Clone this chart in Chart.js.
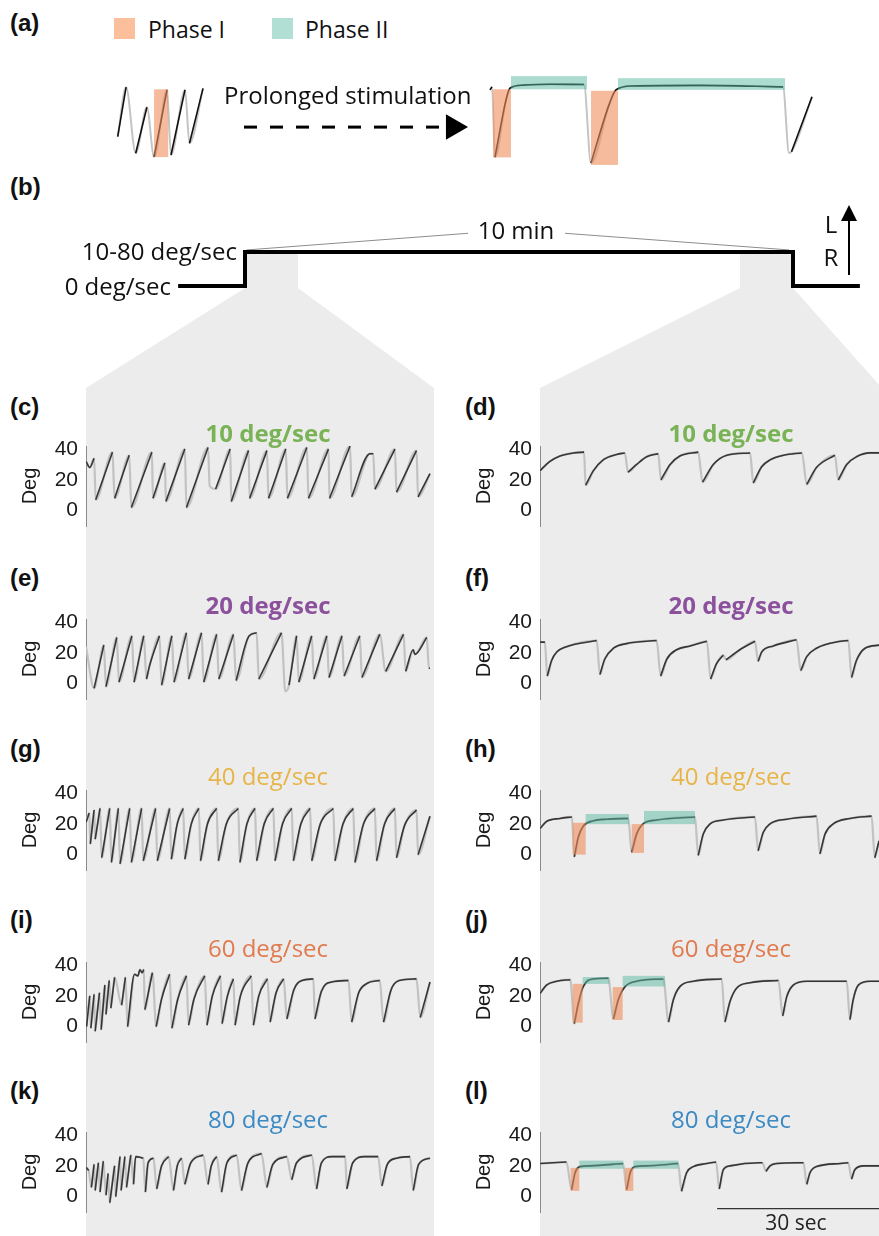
<!DOCTYPE html>
<html>
<head>
<meta charset="utf-8">
<title>Prolonged stimulation</title>
<script src="https://cdn.jsdelivr.net/npm/chart.js@4.4.1/dist/chart.umd.min.js"></script>
<style>
  html, body { margin: 0; padding: 0; background: #fff; }
  body { position: relative; width: 879px; height: 1236px; overflow: hidden; font-family: "Open Sans", sans-serif; color: #111; }
  .shade { position: absolute; background: #ececec; }
  canvas { position: absolute; }
  .txt { position: absolute; white-space: nowrap; line-height: 1; z-index: 2; }
</style>
</head>
<body>
<div class="shade" style="left:0;top:0;width:879px;height:400px;clip-path:polygon(245px 252px,298px 252px,298px 288px,434px 388px,86px 388px,245px 288px)"></div>
<div class="shade" style="left:0;top:0;width:879px;height:400px;clip-path:polygon(740px 252px,793px 252px,793px 288px,882px 388px,540px 388px,740px 288px)"></div>
<div class="shade" style="left:86px;top:388px;width:348px;height:848px"></div>
<div class="shade" style="left:540px;top:388px;width:339px;height:848px"></div>
<script>
// ---- data ---------------------------------------------------------------
// traces: list of slow-phase segments, each [time (s), eye position (deg)]
const degTicks = [0, 20, 40];

const cTrace = [
  [[0, 32], [0.7, 28], [1.5, 34]],
  [[1.8, 7], [4.9, 38]],
  [[5.3, 8], [8.0, 36]],
  [[8.4, 2], [12.2, 38]],
  [[12.4, 8], [14.6, 31]],
  [[14.8, 6], [18.3, 40]],
  [[18.6, 2], [22.6, 41]],
  [[22.9, 16]],
  [[24.0, 14], [26.7, 40]],
  [[26.9, 6], [30.1, 39]],
  [[30.3, 8], [33.5, 39]],
  [[33.8, 8], [37.0, 40]],
  [[37.3, 8], [40.9, 41]],
  [[41.2, 8], [44.9, 40]],
  [[45.1, 8], [48.9, 42]],
  [[49.2, 9], [52.6, 37], [53.2, 37]],
  [[53.5, 14], [57.2, 40]],
  [[57.5, 12], [61.2, 39]],
  [[61.5, 9], [63.7, 24]]
];
const dTrace = [
  [[0, 26], [1.85, 32], [3.7, 35.5], [6.2, 37.5], [8.15, 38]],
  [[8.45, 16.5], [9.9, 26], [11.7, 33], [14.2, 36.5], [15.7, 37.5]],
  [[16.3, 25], [17.9, 30], [19.75, 35], [21.9, 37]],
  [[22.4, 20], [24.1, 30], [25.9, 35.5], [29.3, 38]],
  [[30.1, 18.5], [32.1, 30], [34.6, 36], [38.9, 37.5]],
  [[39.5, 18], [41.05, 28.5], [42.6, 33], [45.1, 36], [48.5, 37.5]],
  [[49.4, 17], [51.2, 28], [54.6, 36]],
  [[55.25, 20], [56.8, 30], [58.6, 35], [61.1, 37.5], [62.8, 37.5]]
];
const eTrace = [
  [[0, 24]],
  [[1.5, -3], [3.3, 25]],
  [[3.7, -2], [5.7, 30]],
  [[6.1, 1], [8.5, 31]],
  [[8.9, 1], [10.7, 31]],
  [[11.2, 3], [11.8, 12], [13.6, 31]],
  [[14.0, -1], [15.9, 31]],
  [[16.3, 1], [18.6, 33]],
  [[19.0, 3], [21.4, 33]],
  [[21.8, 1], [24.2, 32]],
  [[24.6, 3], [27.3, 32]],
  [[27.8, 2], [30.2, 31], [31.6, 33]],
  [[32.0, 3], [36.2, 33]],
  [[36.9, -5]],
  [[37.6, -1], [39.0, 31]],
  [[39.4, 1], [41.8, 31]],
  [[42.2, 3], [44.6, 31]],
  [[45.0, 4], [47.4, 31]],
  [[47.8, 5], [50.7, 31]],
  [[51.1, 4], [54.4, 32]],
  [[55.5, 8], [58.8, 32]],
  [[59.2, 8], [60.6, 22], [60.9, 19], [63.1, 30]],
  [[63.5, 10], [63.7, 10]]
];
const fTrace = [
  [[0, 27], [0.9, 27]],
  [[1.35, 5], [2.15, 15], [3.1, 20.5], [4.9, 24], [10.5, 28]],
  [[11.1, 6], [12.0, 16], [13.6, 23], [16.0, 26], [21.6, 28]],
  [[22.35, 5], [23.5, 16], [25.3, 22], [27.8, 24.5], [30.9, 27.5]],
  [[31.6, 3], [32.7, 13], [33.95, 18.5]],
  [[34.45, 15.5], [37.0, 22], [39.8, 27.5]],
  [[40.4, 14.5], [41.05, 20.5], [43.2, 24.5], [47.5, 28.5]],
  [[48.3, 8.5], [49.4, 17.5], [51.2, 23], [55.6, 27.5], [57.1, 28]],
  [[57.7, 4], [58.6, 15], [60.2, 23], [62.8, 25]]
];
const gTrace = [
  [[0, 21], [0.6, 27]],
  [[0.8, 7], [1.5, 29]],
  [[1.7, 10], [2.6, 30]],
  [[2.9, -2], [4.4, 30]],
  [[4.7, -5], [6.0, 30]],
  [[6.3, -6], [8.1, 30]],
  [[8.4, -5], [10.3, 30]],
  [[10.6, -4], [12.9, 30]],
  [[13.2, -4], [15.5, 30]],
  [[15.8, -3], [16.9, 20], [18.0, 30]],
  [[18.3, -3], [19.5, 20], [20.9, 30]],
  [[21.2, -4], [22.5, 20], [24.2, 30]],
  [[24.5, -4], [26.0, 20], [28.2, 30]],
  [[28.5, -5], [29.8, 20], [31.3, 30]],
  [[31.6, -4], [33.0, 20], [34.7, 30]],
  [[35.0, -4], [36.4, 20], [38.1, 30]],
  [[38.4, -4], [39.8, 20], [41.5, 30]],
  [[41.8, -4], [43.4, 20], [45.8, 30]],
  [[46.1, -4], [47.6, 20], [49.5, 30]],
  [[49.8, -5], [51.4, 20], [53.5, 30]],
  [[53.8, -4], [55.3, 20], [57.2, 30]],
  [[57.5, -2], [59.0, 19], [61.2, 29]],
  [[61.5, 0], [63.7, 25]]
];
const hTrace = [
  [[0, 17], [1.2, 21.5], [3.7, 23.5], [5.9, 24.5]],
  [[6.35, -1.5], [7.1, 11.5], [8.0, 18.5], [9.9, 22], [12.35, 23], [16.35, 23.5]],
  [[16.98, 1.5], [17.9, 13.5], [19.1, 20], [21.6, 22.5], [28.7, 24.5]],
  [[29.3, -0.5], [30.25, 13.5], [31.5, 20], [33.95, 22.5], [39.8, 24.5]],
  [[40.4, 2.5], [41.35, 14.5], [42.6, 20], [45.7, 23], [51.2, 25]],
  [[51.85, 0.5], [52.8, 13.5], [54.3, 20], [57.4, 23.5], [61.4, 25]],
  [[62.0, -2], [62.8, 9]]
];
const iTrace = [
  [[0.1, 0], [0.7, 20]],
  [[0.9, -1], [1.5, 21]],
  [[1.7, -3], [2.5, 22]],
  [[2.8, -2], [3.5, 27]],
  [[3.7, 8], [4.3, 30]],
  [[4.6, 12], [5.3, 32]],
  [[6.6, 14], [7.3, 32]],
  [[7.7, 0], [9.0, 34], [9.6, 33], [10.0, 37], [10.4, 35], [10.7, 37]],
  [[10.9, 11], [12.3, 35]],
  [[13.0, 0], [14.0, 18], [15.5, 34]],
  [[15.9, -1], [17.0, 18], [18.6, 33]],
  [[19.0, 1], [20.0, 18], [22.0, 33]],
  [[22.4, 1], [23.4, 20], [24.9, 33]],
  [[25.2, 2], [26.2, 20], [27.3, 31]],
  [[27.6, 1], [28.6, 20], [30.6, 33]],
  [[31.0, 1], [32.0, 20], [33.6, 31]],
  [[34.1, 3], [35.2, 22], [36.6, 31]],
  [[37.2, 5], [38.5, 24], [40.0, 30], [42.1, 31]],
  [[42.4, 5], [43.6, 23], [45.5, 29], [48.6, 30]],
  [[49.2, 3], [50.5, 22], [52.0, 28], [54.4, 30]],
  [[55.1, 3], [56.5, 24], [58.0, 30], [61.2, 31]],
  [[61.9, 6], [63.7, 29]]
];
const jTrace = [
  [[0, 21.5], [1.2, 27], [3.1, 29.5], [5.6, 30.5]],
  [[6.35, 2], [7.1, 15], [8.0, 26], [9.9, 31], [12.65, 31.5]],
  [[13.6, 5], [14.5, 17.5], [15.75, 26], [17.9, 29.5], [22.85, 31]],
  [[23.8, 3], [24.7, 17.5], [25.9, 26], [28.4, 29.5], [33.65, 31]],
  [[34.25, 3], [35.2, 16.5], [36.4, 25], [38.9, 28.5], [44.15, 30]],
  [[44.95, 7], [45.7, 19.5], [46.9, 27], [49.4, 29.5], [56.8, 29.5]],
  [[57.4, 4.5], [58.0, 17.5], [58.95, 27], [61.1, 29.5], [62.8, 29.5]]
];
const kTrace = [
  [[0, 19], [0.5, 17]],
  [[1.0, 6], [1.5, 21]],
  [[1.7, 4], [2.3, 22]],
  [[2.6, 3], [3.2, 23]],
  [[3.7, 1], [4.1, 15]],
  [[4.4, -4], [5.3, 20]],
  [[5.5, 0], [6.3, 26]],
  [[6.5, 4], [7.2, 26]],
  [[7.5, 6], [8.3, 27]],
  [[8.8, 8], [9.2, 26], [10.6, 25]],
  [[11.0, 3], [11.5, 22], [12.5, 25]],
  [[13.1, 5], [14.0, 20], [15.3, 26]],
  [[16.2, 4], [16.9, 20], [17.7, 25]],
  [[18.3, 8], [19.4, 22], [21.7, 27]],
  [[22.6, 8], [23.2, 20], [24.2, 26]],
  [[25.1, 3], [26.1, 22], [27.9, 27]],
  [[28.8, 4], [30.0, 22], [32.5, 28]],
  [[33.5, 6], [34.6, 21], [37.2, 26]],
  [[38.1, 11], [39.0, 22], [41.8, 27]],
  [[42.7, 5], [43.6, 22], [45.5, 26], [48.0, 26]],
  [[48.3, 5], [49.4, 22], [51.5, 26], [54.1, 26]],
  [[54.8, 7], [55.8, 21], [57.5, 25], [60.0, 26]],
  [[60.6, 4], [61.6, 21], [63.7, 25]]
];
const lTrace = [
  [[0, 21.5], [4.9, 22.5]],
  [[5.85, 4.5], [6.5, 15.5], [7.4, 19.5], [9.3, 20], [15.4, 21.5]],
  [[16.05, 4.5], [16.7, 15.5], [17.6, 19.5], [19.75, 20], [25.6, 21.5]],
  [[26.2, 3.5], [27.15, 15.5], [28.4, 19.5], [30.9, 21.5], [32.6, 22.5]],
  [[33.2, 5], [33.95, 17.5], [35.2, 20], [40.7, 22], [41.2, 22]],
  [[41.85, 16.5], [42.6, 20], [43.8, 21.5], [48.8, 22]],
  [[49.4, 8], [50.0, 15.5], [51.2, 19.5], [55.6, 21.5], [57.1, 22]],
  [[57.7, 11.5], [58.3, 17.5], [59.9, 20], [62.8, 20]]
];

// phase windows: [t start, t end, deg low, deg high]
const hPhaseI = [[6.05, 8.46, 0, 20.7], [16.98, 19.26, 1.1, 19.8]];
const hPhaseII = [[8.46, 16.48, 19.8, 26.4], [19.26, 28.7, 19.8, 28.4]];
const jPhaseI = [[6.05, 7.9, 2.6, 27.8], [13.46, 15.31, 4.3, 25.7]];
const jPhaseII = [[7.9, 12.84, 27.8, 32.2], [15.31, 23.15, 26.1, 33]];
const lPhaseI = [[5.68, 7.28, 3.7, 18.7], [15.74, 17.28, 3.7, 18.7]];
const lPhaseII = [[7.28, 15.43, 18.1, 23.4], [17.28, 25.62, 18.1, 23.4]];

const scaleBarSec = [32.8, 62.8];
const scaleBarDeg = -7.8;

// schematic (a): before / after prolonged stimulation (arbitrary units)
const aBefore = [
  [[1.77, 11.1], [2.61, 27.6]],
  [[3.57, 5.6], [4.69, 20.9]],
  [[5.41, 4.4], [6.7, 26.7]],
  [[7.1, 5], [8.5, 26.7]],
  [[8.95, 8.9], [10.3, 27.2]]
];
const aAfter = [
  [[39.0, 26.7], [39.2, 27.7]],
  [[39.5, 4.3], [40.6, 23.3], [41.0, 27.3], [42.3, 28.3], [45.0, 28.6], [48.4, 28.5]],
  [[49.1, 2.3], [50.9, 21.7], [51.6, 26.7], [53.2, 28], [60.0, 28.2], [68.3, 27.7]],
  [[68.9, 5.7]],
  [[69.15, 6.1], [71.2, 24.4]]
];
const aPhaseI = [[5.41, 6.82, 4.3, 26.9], [39.3, 41.1, 4.2, 26.9], [49.1, 51.8, 1.7, 26.4]];
const aPhaseII = [[41.1, 48.7, 26.9, 31.3], [51.8, 68.5, 26.7, 30.6]];
const arrowSpan = [14.4, 34.2];
const arrowHead = 35.33;
const arrowDeg = 14.3;

// stimulus (b): minutes vs velocity level
const stimMin = [-1.22, 0, 0, 10, 10, 11.22];
const stimLevel = [0, 0, 1, 1, 0, 0];
const calloutLeft = [[0.03, 1.06], [4.07, 1.55]];
const calloutRight = [[5.84, 1.55], [9.93, 1.06]];

// ---- helpers ------------------------------------------------------------
const PX_PER_SEC = 5.4;
const ORANGE = 'rgba(240, 140, 90, 0.6)';
const TEAL = 'rgba(90, 185, 160, 0.5)';

Chart.defaults.font.family = '"Liberation Sans", Arial, sans-serif';

function makeCanvas(left, top, w, h) {
  const c = document.createElement('canvas');
  c.width = w; c.height = h;
  c.style.left = left + 'px'; c.style.top = top + 'px';
  c.style.width = w + 'px'; c.style.height = h + 'px';
  document.body.appendChild(c);
  return c;
}

const toPts = segs => segs.flat().map(([x, y]) => ({x, y}));
const toDark = segs => {
  const out = [];
  segs.forEach((seg, i) => {
    if (i > 0) out.push({x: seg[0][0] - 0.05, y: null});
    seg.forEach(([x, y]) => out.push({x, y}));
  });
  return out;
};

function phasePlugin(phaseI, phaseII) {
  return {
    id: 'phases',
    afterDatasetsDraw(chart) {
      const {ctx, scales: {x, y}} = chart;
      const draw = (boxes, color) => (boxes || []).forEach(([t0, t1, d0, d1]) => {
        const px0 = x.getPixelForValue(t0), px1 = x.getPixelForValue(t1);
        const py0 = y.getPixelForValue(d1), py1 = y.getPixelForValue(d0);
        ctx.save();
        ctx.fillStyle = color;
        ctx.fillRect(px0, py0, px1 - px0, py1 - py0);
        ctx.restore();
      });
      draw(phaseI, ORANGE);
      draw(phaseII, TEAL);
    }
  };
}

const baseOpts = {
  responsive: false,
  animation: false,
  devicePixelRatio: 1,
  events: [],
  plugins: {legend: {display: false}, tooltip: {enabled: false}},
  elements: {point: {radius: 0}, line: {cubicInterpolationMode: 'monotone', borderJoinStyle: 'round'}}
};

// dataset 0 is painted last (on top), so the dark slow phases come first
function tracePanel(axisX, zeroY, plotW, trace, phaseI, phaseII, extra) {
  const canvas = makeCanvas(axisX - 72, Math.round(zeroY - 86.6), 72 + plotW, 124);
  const datasets = [
    {data: toDark(trace), borderColor: '#363636', borderWidth: 1.6},
    {data: toPts(trace), borderColor: '#c2c2c2', borderWidth: 2.2}
  ];
  if (extra) datasets.push(...extra);
  return new Chart(canvas, {
    type: 'line',
    data: {datasets},
    options: {
      ...baseOpts,
      layout: {autoPadding: false, padding: {top: 22, bottom: 22, left: 0, right: 0}},
      scales: {
        x: {type: 'linear', min: 0, max: plotW / PX_PER_SEC, display: false},
        y: {
          min: -10, max: 42,
          afterFit: s => { s.width = 72; },
          afterBuildTicks: s => { s.ticks = degTicks.map(v => ({value: v})); },
          grid: {display: false, drawTicks: false},
          border: {display: true, color: '#8a8a8a', width: 1},
          ticks: {padding: 8, color: '#1a1a1a', font: {size: 21}},
          title: {display: true, text: 'Deg', color: '#1a1a1a', font: {size: 20}, padding: {top: 4, bottom: 0}}
        }
      }
    },
    plugins: [phasePlugin(phaseI, phaseII)]
  });
}

// ---- (a) schematic ------------------------------------------------------
new Chart(makeCanvas(100, 50, 730, 125), {
  type: 'line',
  data: {datasets: [
    {data: toDark(aBefore), borderColor: '#111', borderWidth: 1.6},
    {data: toPts(aBefore), borderColor: '#c4c4c4', borderWidth: 2},
    {data: toDark(aAfter), borderColor: '#111', borderWidth: 1.6},
    {data: toPts(aAfter), borderColor: '#c4c4c4', borderWidth: 2},
    {data: arrowSpan.map(x => ({x, y: arrowDeg})), borderColor: '#000', borderWidth: 3,
     borderDash: [13, 13], cubicInterpolationMode: 'default', borderCapStyle: 'butt'},
    {data: [{x: arrowHead, y: arrowDeg}], showLine: false, pointStyle: 'triangle', pointRadius: 14.7,
     rotation: 90, pointBackgroundColor: '#000', pointBorderWidth: 0}
  ]},
  options: {
    ...baseOpts,
    layout: {autoPadding: false, padding: 0},
    scales: {
      x: {type: 'linear', min: 0, max: 73, display: false},
      y: {min: -1.667, max: 40, display: false}
    }
  },
  plugins: [phasePlugin(aPhaseI, aPhaseII)]
});

// ---- (b) stimulus -------------------------------------------------------
new Chart(makeCanvas(150, 200, 720, 100), {
  type: 'line',
  data: {datasets: [
    {data: stimMin.map((x, i) => ({x, y: stimLevel[i]})), borderColor: '#000', borderWidth: 4,
     cubicInterpolationMode: 'default', tension: 0, borderJoinStyle: 'miter', borderCapStyle: 'butt'},
    {data: calloutLeft.map(([x, y]) => ({x, y})), borderColor: '#8c8c8c', borderWidth: 1, cubicInterpolationMode: 'default'},
    {data: calloutRight.map(([x, y]) => ({x, y})), borderColor: '#8c8c8c', borderWidth: 1, cubicInterpolationMode: 'default'}
  ]},
  options: {
    ...baseOpts,
    layout: {autoPadding: false, padding: 0},
    scales: {
      x: {type: 'linear', min: -1.7336, max: 11.405, display: false},
      y: {min: -0.412, max: 2.529, display: false}
    }
  }
});

// ---- (c)-(l) traces -----------------------------------------------------
const rowZero = [511, 684, 854.5, 1026.5, 1197];
tracePanel(86, rowZero[0], 348, cTrace);
tracePanel(540, rowZero[0], 339, dTrace);
tracePanel(86, rowZero[1], 348, eTrace);
tracePanel(540, rowZero[1], 339, fTrace);
tracePanel(86, rowZero[2], 348, gTrace);
tracePanel(540, rowZero[2], 339, hTrace, hPhaseI, hPhaseII);
tracePanel(86, rowZero[3], 348, iTrace);
tracePanel(540, rowZero[3], 339, jTrace, jPhaseI, jPhaseII);
tracePanel(86, rowZero[4], 348, kTrace);
tracePanel(540, rowZero[4], 339, lTrace, lPhaseI, lPhaseII, [
  {data: scaleBarSec.map(x => ({x, y: scaleBarDeg})), borderColor: '#333', borderWidth: 1.3,
   cubicInterpolationMode: 'default'}
]);

// ---- text ---------------------------------------------------------------
function put(text, x, y, anchor, css) {
  const d = document.createElement('div');
  d.className = 'txt';
  d.textContent = text;
  d.style.left = x + 'px';
  d.style.top = y + 'px';
  const tx = anchor === 'c' ? '-50%' : anchor === 'r' ? '-100%' : '0';
  d.style.transform = `translate(${tx}, -50%)`;
  d.style.cssText += css || '';
  document.body.appendChild(d);
  return d;
}
const LBL = 'font: bold 24px "Liberation Sans", Arial, sans-serif; color:#111;';
const OS = 'font-family:"Open Sans", sans-serif;';

put('(a)', 10, 23, 'l', LBL);
put('(b)', 10, 187, 'l', LBL);
const labelY = [407, 578, 749, 920, 1091];
['c', 'e', 'g', 'i', 'k'].forEach((l, i) => put(`(${l})`, 10, labelY[i], 'l', LBL));
['d', 'f', 'h', 'j', 'l'].forEach((l, i) => put(`(${l})`, 465, labelY[i], 'l', LBL));

const speeds = ['10 deg/sec', '20 deg/sec', '40 deg/sec', '60 deg/sec', '80 deg/sec'];
const speedColors = ['#79b356', '#8c519c', '#e7b547', '#e07a4f', '#3b8ac4'];
const speedWeight = ['bold', 'bold', 'normal', 'normal', 'normal'];
const titleY = [433, 604.5, 776, 947.5, 1119];
speeds.forEach((s, i) => {
  const css = `${OS} font-size:24px; font-weight:${speedWeight[i]}; color:${speedColors[i]};`;
  put(s, 268, titleY[i], 'c', css);
  put(s, 731, titleY[i], 'c', css);
});

// legend of (a)
const sw1 = document.createElement('div');
sw1.style.cssText = 'position:absolute;left:114px;top:18px;width:21px;height:21px;background:#fbbf9c;';
document.body.appendChild(sw1);
const sw2 = document.createElement('div');
sw2.style.cssText = 'position:absolute;left:272px;top:18px;width:21px;height:21px;background:#b2dfd3;';
document.body.appendChild(sw2);
put('Phase I', 148, 29, 'l', OS + 'font-size:23px;');
put('Phase II', 305, 29, 'l', OS + 'font-size:23px;');
put('Prolonged stimulation', 224, 95, 'l', OS + 'font-size:24px;');

// (b) texts
put('10-80 deg/sec', 237, 251, 'r', OS + 'font-size:24px;');
put('0 deg/sec', 171, 286, 'r', OS + 'font-size:24px;');
put('10 min', 516, 230, 'c', OS + 'font-size:24px;');
put('L', 831, 224, 'c', OS + 'font-size:24px;');
put('R', 831, 257, 'c', OS + 'font-size:24px;');
const stem = document.createElement('div');
stem.style.cssText = 'position:absolute;left:848px;top:218px;width:2px;height:57px;background:#000;';
document.body.appendChild(stem);
const head = document.createElement('div');
head.style.cssText = 'position:absolute;left:841px;top:205px;width:0;height:0;border-left:8px solid transparent;border-right:8px solid transparent;border-bottom:16px solid #000;';
document.body.appendChild(head);

put('30 sec', 796, 1222, 'c', OS + 'font-size:21px; color:#222;');
</script>
</body>
</html>
